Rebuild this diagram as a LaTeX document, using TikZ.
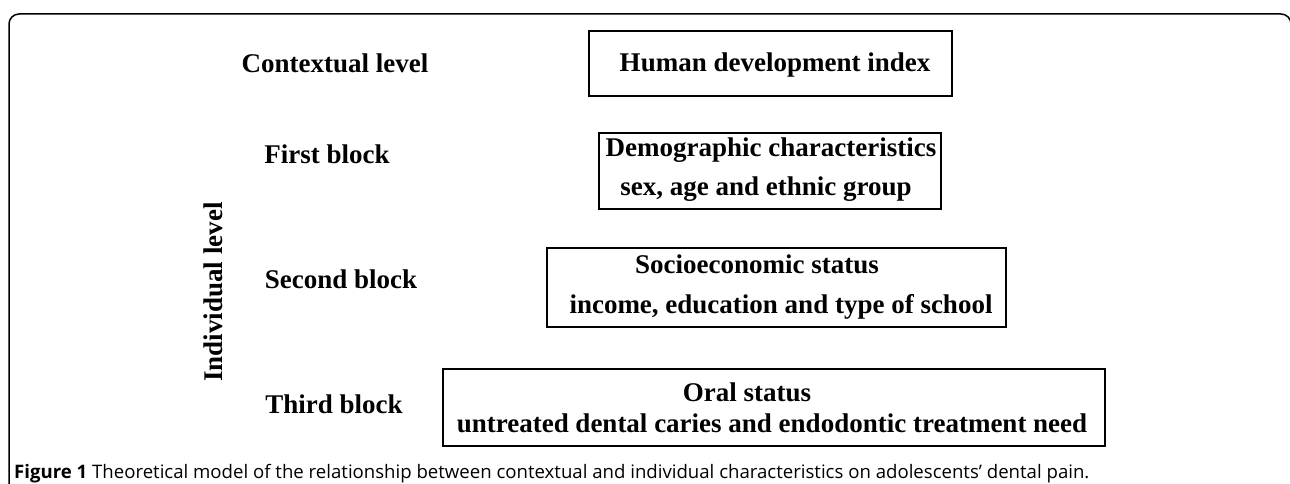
\documentclass[tikz,border=0pt]{standalone}
\usepackage{fontspec}
\setmainfont{Liberation Serif}
\newfontfamily\capfont{Open Sans}

\begin{document}
\begin{tikzpicture}
[x=1pt,y=-1pt,every node/.style={font=\fontsize{27}{27}\selectfont\bfseries,anchor=base,inner sep=0pt},
 box/.style={draw,line width=2pt,anchor=center}]
\useasboundingbox (0,0) rectangle (1290,484);
% frame
\draw[line width=1.5pt,rounded corners=10pt] (9,530) -- (9,14) -- (1291,14) -- (1291,530);
% levels on the left
\node (ctx) at (335,73) {Contextual level};
\node (first) at (327,164) {First block};
\node (second) at (341,288) {Second block};
\node (third) at (334,413) {Third block};
\node[rotate=90] (indiv) at (222,292) {Individual level};
% boxes
\node[box,minimum width=363pt,minimum height=65pt] (hdi) at (770.5,63.5) {};
\node[box,minimum width=342pt,minimum height=76pt] (demo) at (770,171) {};
\node[box,minimum width=459pt,minimum height=79pt] (socio) at (776.5,287.5) {};
\node[box,minimum width=662pt,minimum height=77pt] (oral) at (774,407.5) {};
% box texts
\node (hdi1) at (775,72) {Human development index};
\node (demo1) at (771,157) {Demographic characteristics};
\node (demo2) at (766,195) {sex, age and ethnic group};
\node (socio1) at (757,273) {Socioeconomic status};
\node (socio2) at (781,313) {income, education and type of school};
\node (oral1) at (747,401) {Oral status};
\node (oral2) at (772,432) {untreated dental caries and endodontic treatment need};
% caption
\node[anchor=base west,font=\capfont\fontsize{18.6}{18.6}\selectfont] (cap) at (14,478)
 {\textbf{Figure 1} Theoretical model of the relationship between contextual and individual characteristics on adolescents’ dental pain.};
\end{tikzpicture}
\end{document}
